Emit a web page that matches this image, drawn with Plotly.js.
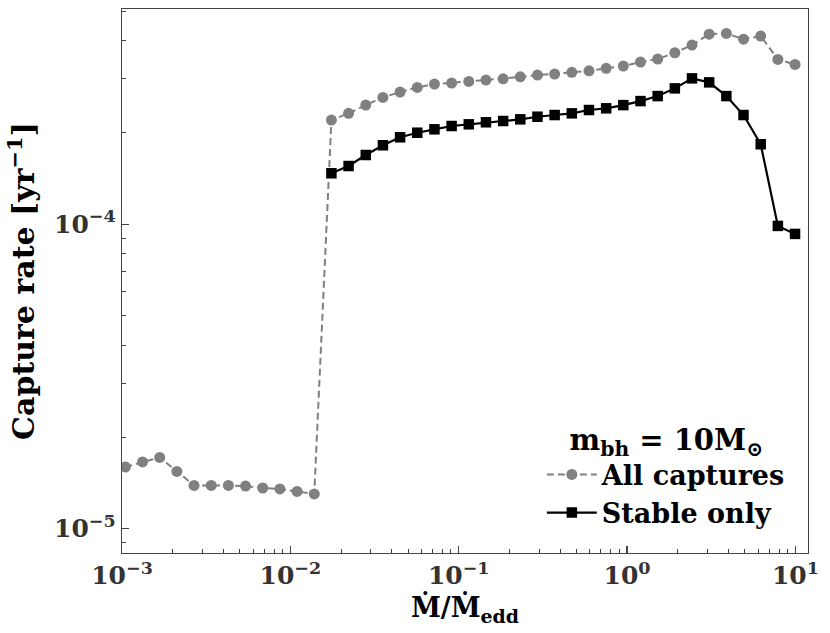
<!DOCTYPE html>
<html>
<head>
<meta charset="utf-8">
<script src="https://cdn.plot.ly/plotly-3.0.1.min.js"></script>
<style>html,body{margin:0;padding:0;background:#fff;}#chart{width:830px;height:633px;}</style>
</head>
<body>
<div id="chart"></div>
<script>
// Accretion rate Mdot/Mdot_edd
const mdotAll = [0.001047, 0.001324, 0.001675, 0.002118, 0.002679, 0.003388, 0.004285, 0.005420,
  0.006855, 0.008670, 0.010965, 0.013868, 0.017539, 0.022182, 0.028054, 0.035481, 0.044875,
  0.056754, 0.071779, 0.090782, 0.11482, 0.14521, 0.18365, 0.23227, 0.29376, 0.37154, 0.46989,
  0.59429, 0.75162, 0.95060, 1.2023, 1.5205, 1.9231, 2.4322, 3.0761, 3.8905, 4.9204, 6.2230,
  7.8705, 9.9540];
const rateAll = [1.594e-5, 1.656e-5, 1.714e-5, 1.542e-5, 1.387e-5, 1.387e-5, 1.387e-5, 1.380e-5,
  1.360e-5, 1.350e-5, 1.325e-5, 1.300e-5, 2.199e-4, 2.313e-4, 2.462e-4, 2.610e-4, 2.717e-4,
  2.815e-4, 2.886e-4, 2.908e-4, 2.946e-4, 2.975e-4, 3.004e-4, 3.050e-4, 3.090e-4, 3.113e-4,
  3.154e-4, 3.192e-4, 3.251e-4, 3.308e-4, 3.410e-4, 3.487e-4, 3.658e-4, 3.876e-4, 4.211e-4,
  4.233e-4, 4.055e-4, 4.150e-4, 3.479e-4, 3.350e-4];
const mdotStable = [0.017539, 0.022182, 0.028054, 0.035481, 0.044875, 0.056754, 0.071779, 0.090782,
  0.11482, 0.14521, 0.18365, 0.23227, 0.29376, 0.37154, 0.46989, 0.59429, 0.75162, 0.95060,
  1.2023, 1.5205, 1.9231, 2.4322, 3.0761, 3.8905, 4.9204, 6.2230, 7.8705, 9.9540];
const rateStable = [1.470e-4, 1.553e-4, 1.688e-4, 1.817e-4, 1.930e-4, 1.998e-4, 2.050e-4, 2.102e-4,
  2.129e-4, 2.162e-4, 2.183e-4, 2.211e-4, 2.255e-4, 2.284e-4, 2.313e-4, 2.372e-4, 2.403e-4,
  2.462e-4, 2.538e-4, 2.636e-4, 2.794e-4, 3.014e-4, 2.924e-4, 2.636e-4, 2.284e-4, 1.831e-4,
  9.872e-5, 9.294e-5];
const xTickVals = [1e-3, 1e-2, 1e-1, 1, 10];
const xTickText = ['10<sup>−3</sup>', '10<sup>−2</sup>', '10<sup>−1</sup>', '10<sup>0</sup>', '10<sup>1</sup>'];
const yTickVals = [1e-5, 1e-4];
const yTickText = ['10<sup>−5</sup>', '10<sup>−4</sup>'];
const seriesNames = ['All captures', 'Stable only'];
const legendTitle = 'm<sub>bh</sub> = 10M<sub>⊙</sub>';
const xTitle = 'Ṁ/Ṁ<sub>edd</sub>';
const yTitle = 'Capture rate [yr<sup>−1</sup>]';

const serif = 'DejaVu Serif, Liberation Serif, serif';
const traces = [
  {x: mdotAll, y: rateAll, name: seriesNames[0], type: 'scatter', mode: 'lines+markers',
   line: {color: '#808080', width: 2, dash: '7px,4px'},
   marker: {symbol: 'circle', size: 11, color: '#808080'}},
  {x: mdotStable, y: rateStable, name: seriesNames[1], type: 'scatter', mode: 'lines+markers',
   line: {color: '#000000', width: 2.2},
   marker: {symbol: 'square', size: 10.5, color: '#000000'}}
];
const axisCommon = {
  type: 'log', showgrid: false, zeroline: false,
  showline: true, mirror: true, linecolor: '#444', linewidth: 1.3,
  ticks: 'inside', ticklen: 7, tickwidth: 1.2, tickcolor: '#444',
  minor: {ticks: 'inside', ticklen: 4, tickwidth: 1, tickcolor: '#444', dtick: 'D1', showgrid: false},
  tickfont: {family: serif, size: 25, color: '#333', weight: 'bold'}
};
const layout = {
  width: 830, height: 633,
  margin: {l: 122, r: 22, t: 9, b: 80},
  paper_bgcolor: '#fff', plot_bgcolor: '#fff',
  showlegend: true,
  xaxis: Object.assign({}, axisCommon, {range: [-3, 1.075], tickmode: 'array', tickvals: xTickVals, ticktext: xTickText,
    title: {text: xTitle, font: {family: serif, size: 27, color: '#000', weight: 'bold'}, standoff: 0}}),
  yaxis: Object.assign({}, axisCommon, {range: [-5.080, -3.293], tickmode: 'array', tickvals: yTickVals, ticktext: yTickText,
    title: {text: yTitle, font: {family: serif, size: 30, color: '#000', weight: 'bold'}, standoff: 10}}),
  legend: {x: 0.975, y: 0.03, xanchor: 'right', yanchor: 'bottom', bgcolor: 'rgba(255,255,255,0)',
    font: {family: serif, size: 27, color: '#000', weight: 'bold'},
    title: {text: legendTitle, side: 'top center', font: {family: serif, size: 29, color: '#000', weight: 'bold'}},
    itemwidth: 50, tracegroupgap: 6}
};
Plotly.newPlot('chart', traces, layout, {displayModeBar: false, staticPlot: true});
</script>
</body>
</html>
